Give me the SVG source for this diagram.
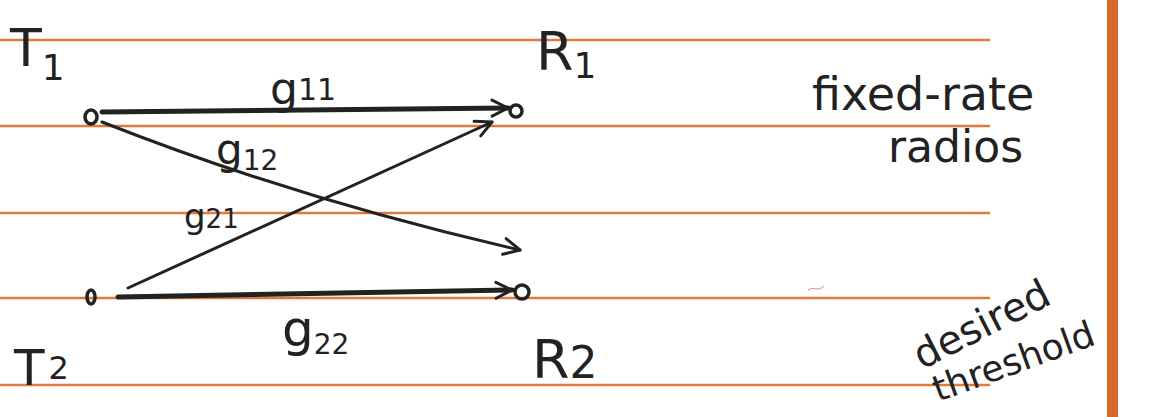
<svg xmlns="http://www.w3.org/2000/svg" width="1151" height="417" viewBox="0 0 1151 417">
<defs>
<style>
.rule{stroke:#e07a3c;stroke-width:2.5}
.ink{fill:none;stroke:#222;stroke-linecap:round;stroke-linejoin:round}
.lbl{font-family:"DejaVu Sans","Liberation Sans",sans-serif;fill:#222}
.node{fill:none;stroke:#222;stroke-width:3.5}
</style>
<marker id="arr" viewBox="0 0 20 20" refX="18" refY="10" markerWidth="20" markerHeight="20" markerUnits="userSpaceOnUse" orient="auto">
<path d="M2,2 L18,10 L2,18" fill="none" stroke="#222" stroke-width="3" stroke-linecap="round" stroke-linejoin="round"/>
</marker>
</defs>
<rect width="1151" height="417" fill="#ffffff"/>
<g id="paper">
<line class="rule" x1="0" y1="40" x2="990" y2="40"/>
<line class="rule" x1="0" y1="126" x2="990" y2="126"/>
<line class="rule" x1="0" y1="213" x2="990" y2="213"/>
<line class="rule" x1="0" y1="298" x2="990" y2="298"/>
<line class="rule" x1="0" y1="385" x2="990" y2="385"/>
<rect x="1107" y="0" width="11" height="417" fill="#d9662a"/>
<path d="M808,290 q4,-3 8,-1 q4,1 8,-3" fill="none" stroke="#e09060" stroke-width="1"/>
</g>
<g id="connectors">
<path id="g11-edge" class="ink" stroke-width="5" d="M102,112 L508,108" marker-end="url(#arr)"/>
<path id="g12-edge" class="ink" stroke-width="3" d="M102,122 Q300,200 520,250" marker-end="url(#arr)"/>
<path id="g21-edge" class="ink" stroke-width="3" d="M128,288 Q310,205 492,122" marker-end="url(#arr)"/>
<path id="g22-edge" class="ink" stroke-width="5" d="M118,297 L512,290" marker-end="url(#arr)"/>
</g>
<g id="T1">
<ellipse class="node" cx="91" cy="117" rx="6" ry="7"/>
<text class="lbl" x="10" y="66" font-size="52">T<tspan font-size="36" dy="14">1</tspan></text>
</g>
<g id="R1">
<ellipse class="node" cx="516" cy="111" rx="6" ry="6"/>
<text class="lbl" x="536" y="70" font-size="54">R<tspan font-size="36" dy="8">1</tspan></text>
</g>
<g id="T2">
<ellipse class="node" cx="91" cy="297" rx="4" ry="7"/>
<text class="lbl" x="14" y="385" font-size="50">T<tspan font-size="32" dx="4" dy="-6">2</tspan></text>
</g>
<g id="R2">
<ellipse class="node" cx="522" cy="292" rx="7" ry="7"/>
<text class="lbl" x="532" y="378" font-size="54">R<tspan font-size="44">2</tspan></text>
</g>
<g id="labels">
<text class="lbl" x="270" y="104" font-size="44">g<tspan font-size="30" dy="-4">11</tspan></text>
<text class="lbl" x="216" y="164" font-size="42">g<tspan font-size="28" dy="6">12</tspan></text>
<text class="lbl" x="184" y="228" font-size="34">g<tspan font-size="26">21</tspan></text>
<text class="lbl" x="282" y="346" font-size="50">g<tspan font-size="28" dy="8">22</tspan></text>
<text class="lbl" x="812" y="110" font-size="46">fixed-rate</text>
<text class="lbl" x="888" y="162" font-size="44">radios</text>
<text class="lbl" font-size="40" transform="translate(922,370) rotate(-27)">desired</text>
<text class="lbl" font-size="36" transform="translate(938,402) rotate(-20)">threshold</text>
</g>
</svg>
